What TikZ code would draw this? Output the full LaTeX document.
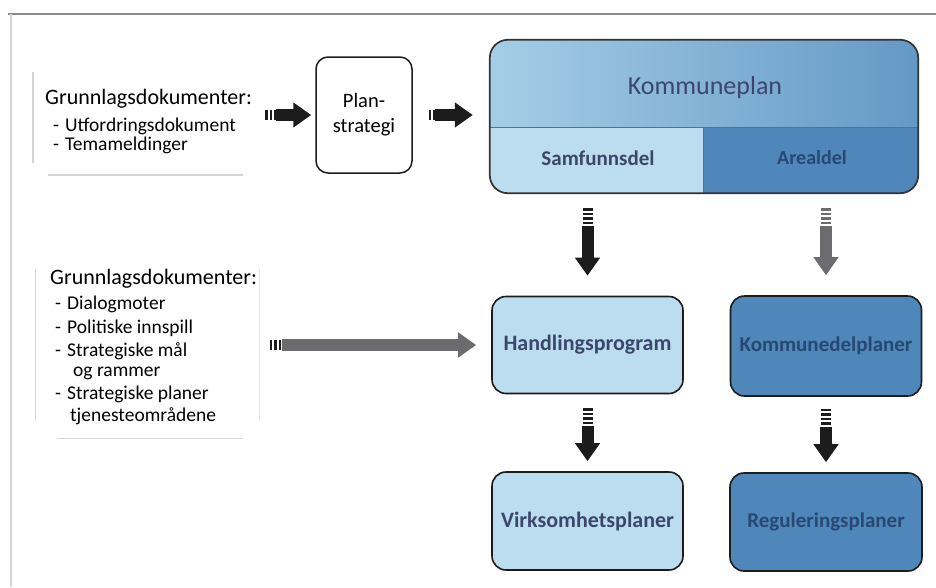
\documentclass[tikz,border=0pt]{standalone}
\usepackage{fontspec}
\setmainfont{Carlito}
\definecolor{frame-grey}{RGB}{140,140,140}
\definecolor{shadow-grey}{RGB}{212,212,212}
\definecolor{sky-light}{RGB}{188,221,239}
\definecolor{sky-top}{RGB}{165,205,230}
\definecolor{steel-top}{RGB}{100,153,198}
\definecolor{steel-blue}{RGB}{80,135,186}
\definecolor{label-navy}{RGB}{60,70,108}
\definecolor{label-dim}{RGB}{38,72,115}
\definecolor{arrow-black}{RGB}{28,28,28}
\definecolor{arrow-grey}{RGB}{108,108,110}
\usetikzlibrary{arrows.meta,positioning,calc}

\begin{document}
\begin{tikzpicture}[x=1pt,y=-1pt,
    panel/.style={minimum width=226,minimum height=116,inner sep=0},
    shadowline/.style={shadow-grey,line width=1.5pt},
    doctitle/.style={anchor=base west,inner sep=0,font=\fontsize{22}{26}\selectfont},
    docitem/.style={anchor=base west,inner sep=0,font=\fontsize{19.5}{22}\selectfont},
    box/.style={draw=arrow-black,line width=1.6pt,rounded corners=14pt,
        minimum width=191,minimum height=97,inner sep=0},
    lightbox/.style={box,fill=sky-light,text=label-navy,font=\fontsize{22}{26}\selectfont\bfseries},
    darkbox/.style={box,fill=steel-blue,text=label-dim,font=\fontsize{21}{26}\selectfont\bfseries},
    fatarrow/.style={line width=12pt,-{Triangle[width=24pt,length=18pt]}},
    stripes/.style={line width=10pt,dash pattern=on 2.5pt off 2pt}
    ]
    \useasboundingbox (0,0) rectangle (936,587);
    % frame
    \draw[frame-grey,line width=1.4pt] (8,14) -- (936,14);
    \draw[shadow-grey,line width=1.6pt] (11,14) -- (11,587);

    % first group of documents
    \node[panel] (docsA) at (145,118) {};
    \draw[shadowline] ($(docsA.north west)+(1,12)$) -- ($(docsA.south west)+(1,-13)$);
    \draw[shadowline] ($(docsA.south west)+(16,-1)$) -- ($(docsA.south east)+(-15,-1)$);
    \node[doctitle] (docsAhead) at (45,104) {Grunnlagsdokumenter:};
    \node[docitem] (docsA1) at (53,131) {-\hspace{6pt}Utfordringsdokument};
    \node[docitem] (docsA2) at (53,150) {-\hspace{6pt}Temameldinger};

    % second group of documents
    \node[panel,minimum width=225,minimum height=175] (docsB) at (147,352) {};
    \draw[shadowline] ($(docsB.north west)+(1,5)$) -- ($(docsB.south west)+(1,-20)$);
    \draw[shadowline] ($(docsB.south west)+(23,-1)$) -- ($(docsB.south east)+(-17,-1)$);
    \draw[shadow-grey!60,line width=1.2pt] ($(docsB.north east)+(0,5)$) -- ($(docsB.south east)+(0,-20)$);
    \node[doctitle] (docsBhead) at (50,284) {Grunnlagsdokumenter:};
    \node[docitem] (docsB1) at (55,309) {-\hspace{6pt}Dialogmoter};
    \node[docitem] (docsB2) at (55,333) {-\hspace{6pt}Politiske innspill};
    \node[docitem] (docsB3) at (55,356) {-\hspace{6pt}Strategiske mål};
    \node[docitem] (docsB4) at (73,376) {og rammer};
    \node[docitem] (docsB5) at (55,399) {-\hspace{6pt}Strategiske planer};
    \node[docitem] (docsB6) at (70,421) {tjenesteområdene};

    % plan strategy
    \node[draw=arrow-black,line width=1.5pt,rounded corners=12pt,fill=white,
        minimum width=96,minimum height=116,align=center,
        font=\fontsize{20.5}{25}\selectfont] (plan) at (364,115) {Plan-\\strategi};

    % municipal plan
    \node[minimum width=428,minimum height=153,inner sep=0] (kplan) at (704,116.5) {};
    \coordinate (kdiv) at (703,127);
    \begin{scope}
        \clip[rounded corners=18pt] (kplan.north west) rectangle (kplan.south east);
        \fill[left color=sky-top,right color=steel-top] (kplan.north west) rectangle (kplan.east |- kdiv);
        \fill[sky-light] (kplan.west |- kdiv) rectangle (kplan.south -| kdiv);
        \fill[steel-blue] (kdiv) rectangle (kplan.south east);
    \end{scope}
    \draw[label-navy!80,line width=1pt] (kplan.west |- kdiv) -- (kplan.east |- kdiv);
    \draw[label-navy!80,line width=1pt] (kdiv) -- (kplan.south -| kdiv);
    \draw[arrow-black!90,line width=1.7pt,rounded corners=18pt] (kplan.north west) rectangle (kplan.south east);
    \node[text=label-navy,font=\fontsize{26}{30}\selectfont] (ktitle) at (705,88) {Kommuneplan};
    \node[text=label-navy,font=\fontsize{21}{26}\selectfont\bfseries] (samf) at (598,158) {Samfunnsdel};
    \node[text=label-dim,font=\fontsize{20}{26}\selectfont\bfseries] (areal) at (812,158) {Arealdel};

    % plans below
    \node[lightbox] (hand) at (587.5,345) {Handlingsprogram};
    \node[darkbox,minimum height=100] (kdel) at (826,346) {Kommunedelplaner};
    \node[lightbox,minimum height=98] (virk) at (587.5,521) {Virksomhetsplaner};
    \node[darkbox,minimum width=192,minimum height=98] (regul) at (826,522) {Reguleringsplaner};

    % arrows
    \draw[stripes,arrow-black] ($(docsA.east |- plan)+(7,0)$) -- ++(11,0);
    \draw[fatarrow,arrow-black] ($(docsA.east |- plan)+(18,0)$) -- ($(plan.west)+(-4,0)$);
    \draw[stripes,arrow-black] ($(plan.east)+(16,0)$) -- ++(6,0);
    \draw[fatarrow,arrow-black] ($(plan.east)+(22,0)$) -- ($(plan.east -| kplan.west)+(-17,0)$);
    \draw[stripes,arrow-black] ($(docsB.east |- hand)+(10,0)$) -- ++(12,0);
    \draw[fatarrow,arrow-grey] ($(docsB.east |- hand)+(22,0)$) -- ($(hand.west)+(-15,0)$);

    \draw[stripes,arrow-black] ($(kplan.south -| hand)+(0,15)$) -- ++(0,18);
    \draw[fatarrow,arrow-black] ($(kplan.south -| hand)+(0,33)$) -- ($(hand.north)+(0,-20)$);
    \draw[stripes,arrow-grey] ($(kplan.south -| kdel)+(0,15)$) -- ++(0,18);
    \draw[fatarrow,arrow-grey] ($(kplan.south -| kdel)+(0,33)$) -- ($(kdel.north)+(0,-20)$);
    \draw[stripes,arrow-black] ($(hand.south)+(0,14)$) -- ++(0,18);
    \draw[fatarrow,arrow-black] ($(hand.south)+(0,32)$) -- ($(virk.north)+(0,-10)$);
    \draw[stripes,arrow-black] ($(kdel.south)+(0,12)$) -- ++(0,18);
    \draw[fatarrow,arrow-black] ($(kdel.south)+(0,30)$) -- ($(regul.north)+(0,-10)$);
\end{tikzpicture}
\end{document}
